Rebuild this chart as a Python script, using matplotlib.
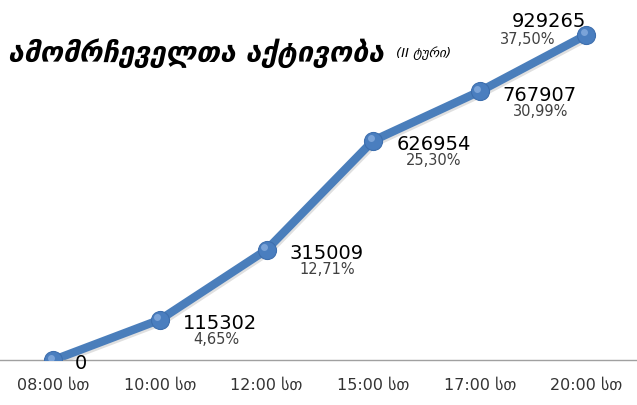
import matplotlib.pyplot as plt
import matplotlib.patheffects as pe
import matplotlib.transforms as mtransforms

# data
times = ['08:00 სთ', '10:00 სთ', '12:00 სთ', '15:00 სთ', '17:00 სთ', '20:00 სთ']
voters = [0, 115302, 315009, 626954, 767907, 929265]
shares = ['', '4,65%', '12,71%', '25,30%', '30,99%', '37,50%']

plt.rcParams['font.family'] = ['DejaVu Sans']

fig = plt.figure(figsize=(6.37, 4.05), dpi=100)
ax = fig.add_axes([0.0, 0.111, 1.0, 0.864])

x = list(range(len(times)))
ax.plot(x, voters, color='#4a7ebb', lw=6, solid_capstyle='round', zorder=2,
        path_effects=[pe.SimpleLineShadow(offset=(1, -1.5), alpha=0.12), pe.Normal()])
ax.plot(x, voters, 'o', ms=13, color='#4a7ebf', mec='#3e6fae', mew=0.8, zorder=3)
# small highlight on each marker to fake the glossy sphere
hl = ax.transData + mtransforms.ScaledTranslation(-2.5/100, 2.5/100, fig.dpi_scale_trans)
ax.plot(x, voters, 'o', ms=5, color='#8fb3e3', mec='none', alpha=0.7, zorder=4, transform=hl)

for i, (v, s) in enumerate(zip(voters, shares)):
    if i == len(voters) - 1:
        ax.annotate(str(v), (i, v), xytext=(-75, 13), textcoords='offset pixels',
                    ha='left', va='center', fontsize=14, color='black', zorder=5)
        ax.annotate(s, (i, v), xytext=(-86, -5), textcoords='offset pixels',
                    ha='left', va='center', fontsize=10.5, color='#404040', zorder=5)
    elif i == 0:
        ax.annotate(str(v), (i, v), xytext=(21, -3), textcoords='offset pixels',
                    ha='left', va='center', fontsize=14, color='black', zorder=5)
    else:
        ax.annotate(str(v), (i, v), xytext=(23, -4), textcoords='offset pixels',
                    ha='left', va='center', fontsize=14, color='black', zorder=5)
        ax.annotate(s, (i, v), xytext=(33, -20), textcoords='offset pixels',
                    ha='left', va='center', fontsize=10.5, color='#404040', zorder=5)

ax.set_xlim(-0.5, 5.475)
ax.set_ylim(0, 1000000)
ax.set_xticks(x)
ax.set_xticklabels(times, fontsize=11.5, color='#333333')
ax.tick_params(axis='x', length=0, pad=13)
ax.set_yticks([])
for sp in ['left', 'right', 'top']:
    ax.spines[sp].set_visible(False)
ax.spines['bottom'].set_color('#a0a0a0')
ax.spines['bottom'].set_linewidth(1)
ax.patch.set_alpha(0)

title = fig.text(0.012, 0.87, 'ამომრჩეველთა აქტივობა', fontsize=20.5, fontweight='bold',
                 style='italic', ha='left', va='center', color='black')
fig.text(0.622, 0.868, '(II ტური)', fontsize=9.5, style='italic',
         ha='left', va='center', color='black')

fig.savefig('out.png', dpi=100)
